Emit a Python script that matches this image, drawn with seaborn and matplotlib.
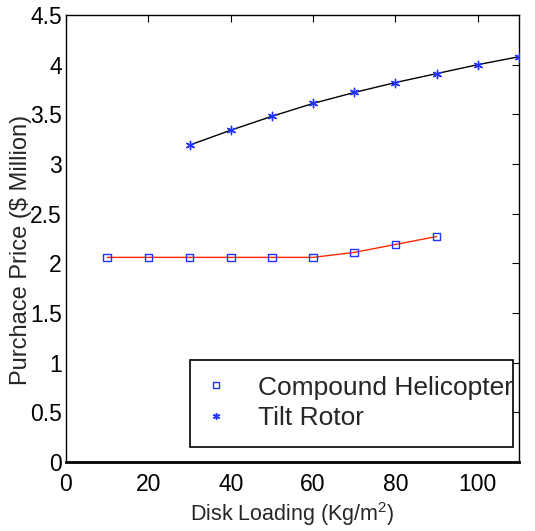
import matplotlib
matplotlib.use("Agg")
import matplotlib.pyplot as plt
import seaborn as sns
import pandas as pd
from matplotlib.lines import Line2D
from matplotlib.patches import Rectangle

sns.set_style("white")
plt.rcParams['font.family'] = ['Liberation Sans', 'DejaVu Sans']
plt.rcParams['mathtext.fontset'] = 'custom'
plt.rcParams['mathtext.rm'] = 'Liberation Sans'

compound_x = [10, 20, 30, 40, 50, 60, 70, 80, 90]
compound_y = [2.06, 2.06, 2.06, 2.06, 2.06, 2.06, 2.11, 2.19, 2.27]
tilt_x = [30, 40, 50, 60, 70, 80, 90, 100, 110]
tilt_y = [3.19, 3.34, 3.48, 3.61, 3.72, 3.82, 3.91, 4.00, 4.08]
x_ticks = [0, 20, 40, 60, 80, 100]
y_ticks = [0, 0.5, 1, 1.5, 2, 2.5, 3, 3.5, 4, 4.5]
y_tick_labels = ['0', '0.5', '1', '1.5', '2', '2.5', '3', '3.5', '4', '4.5']

df_c = pd.DataFrame({'x': compound_x, 'y': compound_y})
df_t = pd.DataFrame({'x': tilt_x, 'y': tilt_y})

fig = plt.figure(figsize=(5.35, 5.31), dpi=100)
ax = fig.add_axes([66/535, 1 - 462/531, (519-66)/535, (462-15)/531])

sns.lineplot(data=df_c, x='x', y='y', ax=ax, color='#ff2a00', linewidth=1.0)
sns.lineplot(data=df_t, x='x', y='y', ax=ax, color='black', linewidth=1.0)
sns.scatterplot(data=df_c, x='x', y='y', ax=ax, marker='s', s=30,
                facecolor='none', edgecolor='#2233ff', linewidth=1.0, zorder=3)
sns.scatterplot(data=df_t, x='x', y='y', ax=ax, marker=(6, 2, 0), s=36,
                color='#2233ff', edgecolor='#2233ff', linewidth=1.0, zorder=3)

ax.set_xlim(0, 110)
ax.set_ylim(0, 4.5)
ax.set_xticks(x_ticks)
ax.set_yticks(y_ticks)
ax.set_yticklabels(y_tick_labels)
ax.tick_params(direction='in', top=True, right=True, length=5, width=0.8,
               labelsize=16.5, pad=3, colors='black')
ax.tick_params(axis='x', pad=8)
for s in ax.spines.values():
    s.set_visible(True)
    s.set_color('black')
    s.set_linewidth(1.0)
ax.spines['bottom'].set_linewidth(2.0)

ax.set_xlabel('Disk Loading (Kg/m$^2$)', fontsize=15.5, labelpad=3)
ax.set_ylabel('Purchace Price (\\$ Million)', fontsize=17)
ax.yaxis.set_label_coords(-0.075, 0.474)

# legend frame drawn as a box in axes coordinates
ax.add_patch(Rectangle((0.274, 0.034), 0.713, 0.194, transform=ax.transAxes,
                       facecolor='white', edgecolor='black', linewidth=1.2,
                       zorder=4))

handles = [
    Line2D([], [], linestyle='none', marker='s', markersize=5,
           markerfacecolor='none', markeredgecolor='#2233ff'),
    Line2D([], [], linestyle='none', marker=(6, 2, 0), markersize=5,
           color='#2233ff'),
]
leg = ax.legend(handles, ['Compound Helicopter', 'Tilt Rotor'],
                loc='center left', bbox_to_anchor=(0.302, 0.132),
                fontsize=19, frameon=False,
                handlelength=1.0, handletextpad=1.1, borderpad=0.0,
                labelspacing=0.25, borderaxespad=0.0)
leg.set_zorder(5)

fig.savefig('out.png', dpi=100, facecolor='white')
